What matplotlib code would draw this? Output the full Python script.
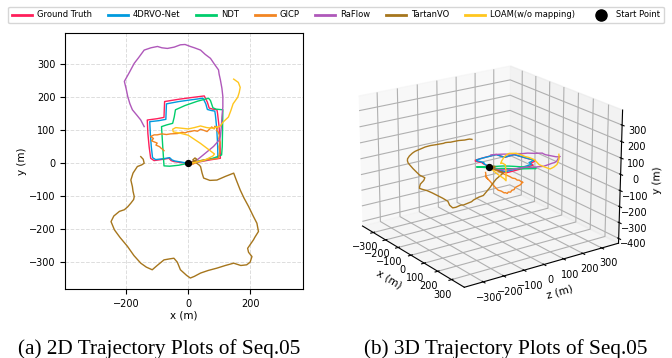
import numpy as np
import matplotlib.pyplot as plt
from matplotlib.lines import Line2D
from mpl_toolkits.mplot3d import Axes3D  # noqa

# trajectories (x, y in metres), h = height used in the 3D panel
gt_x = [0, 30, 70, 104, 103, 100, 95, 93, 80, 68, 62, 52, 10, -30, -76, -77, -78, -100, -132, -130, -126, -121, -110, -80, -62, -55, -46, -20, 0]
gt_y = [0, 3, 10, 15, 60, 110, 150, 162, 164, 167, 185, 204, 199, 194, 187, 165, 139, 135, 131, 90, 50, 15, 8, 12, 15, 8, 5, 2, 0]
gt_h = [0, 0, 0, 0, 0, 0, 0, 0, 0, 0, 0, 0, -5, -8, -10, -12, -14, -15, -16, -16, -15, -15, -14, -10, -8, -6, -4, -2, 0]

vo_x = [0, 30, 68, 96, 95, 92, 88, 86, 74, 62, 57, 48, 8, -30, -70, -71, -72, -95, -124, -122, -119, -115, -105, -78, -60, -52, -44, -20, 0]
vo_y = [0, 4, 12, 17, 60, 108, 146, 158, 160, 163, 180, 197, 192, 187, 180, 158, 133, 129, 126, 88, 50, 17, 11, 14, 17, 10, 7, 3, 0]
vo_h = [0, 1, 2, 3, 3, 3, 3, 3, 3, 3, 3, 3, 0, -3, -6, -8, -10, -11, -12, -12, -11, -11, -10, -7, -5, -4, -3, -1, 0]

ndt_x = [0, -30, -60, -78, -82, -86, -70, -50, -45, -41, -10, 30, 66, 72, 80, 90, 112, 111, 110, 108, 80, 40, 0]
ndt_y = [0, -6, -9, -8, 50, 111, 116, 121, 140, 162, 175, 188, 197, 190, 168, 164, 162, 100, 50, 25, 15, 8, 0]
ndt_h = [0, -12, -24, -33, -56, -81, -75, -68, -73, -79, -70, -56, -43, -38, -25, -20, -8, 14, 32, 40, 32, 15, 0]

gicp_x = [0, 15, 25, 22, 30, 50, 75, 98, 102, 100, 103, 99, 101, 97, 92, 95, 86, 84, 76, 61, 50, 40, 30, 20, 7, 0, -10, -20, -35, -57, -70, -85, -100, -110, -121, -112, -118, -100, -104, -92, -88, -82, -78]
gicp_y = [0, -3, 2, 8, 5, 10, 12, 15, 35, 50, 62, 75, 85, 95, 100, 108, 112, 104, 110, 96, 100, 103, 97, 99, 96, 96, 92, 94, 90, 89, 87, 89, 86, 86, 81, 75, 68, 61, 55, 50, 46, 42, 38]
gicp_h = [0, -3, -5, -6, -8, -10, -12, -14, -30, -45, -50, -65, -68, -80, -85, -91, -96, -108, -114, -132, -141, -158, -166, -182, -186, -198, -196, -203, -197, -200, -192, -188, -175, -168, -155, -150, -138, -130, -118, -110, -98, -90, -81]

raflow_x = [0, 15, 29, 55, 82, 100, 104, 107, 109, 112, 112, 109, 104, 100, 98, 85, 72, 55, 40, 20, 7, -10, -25, -45, -67, -85, -99, -120, -142, -160, -174, -190, -206, -200, -195, -188, -180, -165, -153, -142]
raflow_y = [0, 5, 10, 30, 51, 70, 81, 110, 141, 170, 202, 227, 253, 270, 283, 300, 318, 330, 343, 350, 354, 360, 359, 352, 348, 350, 354, 350, 343, 320, 303, 275, 248, 225, 202, 180, 162, 145, 131, 111]
raflow_h = [0, -7, -8, -6, 0, 8, 9, 8, -2, -5, -11, -10, -10, -12, -6, 0, 0, -8, -19, -31, -38, -46, -49, -50, -53, -55, -57, -65, -73, -72, -76, -75, -77, -68, -60, -52, -44, -34, -26, -17]

tartan_x = [0, 20, 28, 22, 15, 25, 35, 40, 45, 50, 70, 93, 120, 147, 155, 168, 180, 195, 210, 222, 227, 215, 211, 192, 195, 206, 200, 189, 170, 147, 120, 93, 65, 40, 20, 7, -5, -25, -35, -46, -60, -78, -100, -116, -135, -153, -175, -196, -220, -238, -249, -240, -222, -206, -195, -185, -176, -174, -178, -180, -185, -178, -164, -150, -142, -145, -153]
tartan_y = [0, 5, 12, 16, 10, 2, -5, -10, -30, -45, -52, -51, -40, -30, -50, -81, -105, -131, -160, -182, -207, -225, -232, -258, -270, -283, -300, -308, -310, -303, -310, -318, -325, -333, -343, -348, -340, -323, -300, -288, -290, -293, -310, -323, -315, -303, -280, -252, -225, -202, -177, -160, -146, -141, -132, -121, -110, -101, -85, -71, -51, -30, -10, -5, 0, 12, 20]
tartan_h = [0, 2, 4, 5, 5, 6, 8, 10, 20, 30, 38, 42, 38, 31, 25, 17, 5, -8, -20, -28, -28, -45, -55, -75, -70, -63, -72, -78, -70, -59, -50, -43, -37, -32, -30, -28, -26, -23, -12, -4, -2, 0, 35, 66, 70, 72, 74, 75, 68, 61, 59, 70, 82, 90, 95, 100, 104, 107, 103, 99, 96, 99, 102, 110, 114, 108, 102]

loam_x = [0, 20, 50, 80, 85, 40, 0, -30, -48, -50, -40, -20, 0, 20, 40, 60, 80, 103, 113, 130, 138, 145, 160, 165, 168, 162, 147]
loam_y = [0, 2, 8, 22, 28, 60, 85, 92, 95, 103, 108, 106, 104, 108, 113, 108, 106, 112, 125, 140, 160, 180, 200, 215, 230, 245, 255]
loam_h = [0, -10, -28, -49, -61, -34, -14, -18, -28, -13, 13, 35, 52, 59, 66, 71, 76, 72, 66, 56, 22, 6, -7, 2, 16, 44, 63]

names = ['Ground Truth', '4DRVO-Net', 'NDT', 'GICP', 'RaFlow', 'TartanVO', 'LOAM(w/o mapping)']
colors = ['#ff1f5b', '#009ade', '#00cd6c', '#f28522', '#af58ba', '#a6761d', '#ffc61e']
xs = [gt_x, vo_x, ndt_x, gicp_x, raflow_x, tartan_x, loam_x]
ys = [gt_y, vo_y, ndt_y, gicp_y, raflow_y, tartan_y, loam_y]
hs = [gt_h, vo_h, ndt_h, gicp_h, raflow_h, tartan_h, loam_h]

fig = plt.figure(figsize=(6.72, 3.58), dpi=100)
ax = fig.add_axes([0.097, 0.193, 0.354, 0.715])
ax3 = fig.add_axes([0.463, 0.11, 0.517, 0.81], projection='3d')

handles = []
for x, y, hh, c, n in zip(xs, ys, hs, colors, names):
    ax.plot(x, y, color=c, lw=1)
    ax3.plot(x, y, hh, color=c, lw=1)
    handles.append(Line2D([], [], color=c, lw=2, label=n))
ax.scatter([0], [0], color='k', s=18, zorder=5)
ax3.scatter([0], [0], [0], color='k', s=18, depthshade=False, zorder=10)
handles.append(Line2D([], [], color='k', marker='o', ls='', markersize=8, label='Start Point'))

ax.set_xlim(-397, 371)
ax.set_ylim(-381, 395)
ax.set_xticks([-200, 0, 200])
ax.grid(True, ls='--', color='#dddddd', lw=0.7)
ax.set_axisbelow(True)
ax.tick_params(labelsize=7)
ax.set_xlabel('x (m)', fontsize=7.5, labelpad=1)
ax.set_ylabel('y (m)', fontsize=7.5, labelpad=1)

ax3.view_init(elev=20, azim=-35)
ax3.set_xlim(-390, 390)
ax3.set_ylim(-390, 390)
ax3.set_zlim(-430, 390)
ax3.set_xticks([-300, -200, -100, 0, 100, 200, 300])
ax3.set_yticks([-300, -200, -100, 0, 100, 200, 300])
ax3.set_zticks([-400, -300, -200, -100, 0, 100, 200, 300])
ax3.tick_params(labelsize=7, pad=-2)
ax3.set_xlabel('x (m)', fontsize=7.5, labelpad=-6)
ax3.set_ylabel('z (m)', fontsize=7.5, labelpad=-6)
ax3.set_zlabel('y (m)', fontsize=7.5, labelpad=-6)

fig.legend(handles=handles, loc='upper center', bbox_to_anchor=(0.5, 0.993), ncol=8, fontsize=6,
           handlelength=2.4, columnspacing=1.9, handletextpad=0.6, borderpad=0.45)

fig.text(0.237, 0.026, '(a) 2D Trajectory Plots of Seq.05', family='Liberation Serif', fontsize=15.3, ha='center', va='center')
fig.text(0.753, 0.026, '(b) 3D Trajectory Plots of Seq.05', family='Liberation Serif', fontsize=15.3, ha='center', va='center')

fig.savefig('out.png', dpi=100)
